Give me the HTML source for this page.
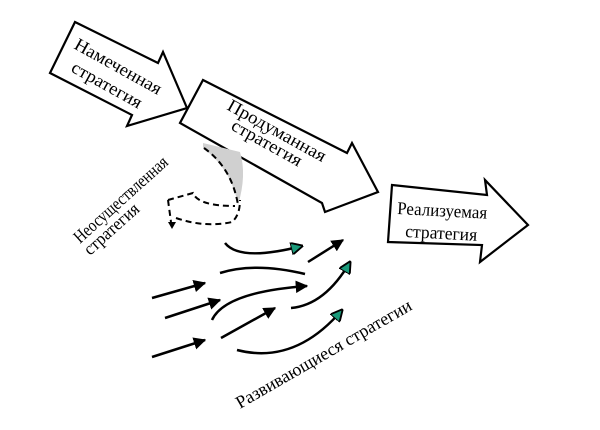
<!DOCTYPE html>
<html><head><meta charset="utf-8"><style>
body{margin:0;background:#fff}
</style></head><body>
<svg width="600" height="425" viewBox="0 0 600 425" xmlns="http://www.w3.org/2000/svg">
<defs>
<marker id="ah" viewBox="0 0 10 10" refX="9" refY="5" markerWidth="5" markerHeight="5" orient="auto"><path d="M0,0L10,5L0,10z" fill="#000"/></marker>
<marker id="gh" viewBox="0 0 10 10" refX="9" refY="5" markerWidth="5" markerHeight="5" orient="auto"><path d="M0,0L10,5L0,10z" fill="#1a9a7a" stroke="#000" stroke-width="1.5"/></marker>
</defs>
<g fill="#fff" stroke="#000" stroke-width="2.2" stroke-linejoin="miter">
<polygon points="75,22 158,63 163,52 187,108 127,126 132,115 50,73"/>
<polygon points="203,80 347,153 352,143 378,192 325,212 322,203 180,123"/>
<polygon points="392,185 487,195 485,180 528,225 480,262 482,245 388,242"/>
</g>
<path d="M203,143 L240,152 Q247,175 238,205 Q232,170 203,148 Z" fill="#d0d0d0"/>
<g fill="none" stroke="#000" stroke-width="2" stroke-dasharray="6,4">
<path d="M204,148 Q232,168 238,205"/>
<path d="M168,200 L193,193 Q198,206 235,206"/>
<path d="M168,200 L171,222"/>
<path d="M176,218 Q205,228 232,222 Q240,215 240,200"/>
</g>
<path d="M168,222 L176,222 L172,229 Z" fill="#000"/>
<g font-size="18" font-family="'Liberation Serif','Times New Roman',serif" lengthAdjust="spacingAndGlyphs">
<text transform="translate(73,48) rotate(29)" textLength="97" lengthAdjust="spacingAndGlyphs">Намеченная</text>
<text transform="translate(70,71) rotate(29)" textLength="78" lengthAdjust="spacingAndGlyphs">стратегия</text>
<text transform="translate(226,109) rotate(29)" textLength="110" lengthAdjust="spacingAndGlyphs">Продуманная</text>
<text transform="translate(230,129) rotate(29)" textLength="78" lengthAdjust="spacingAndGlyphs">стратегия</text>
<text transform="translate(397,214) rotate(3)" textLength="90" lengthAdjust="spacingAndGlyphs">Реализуемая</text>
<text transform="translate(405,237) rotate(3)" textLength="72" lengthAdjust="spacingAndGlyphs">стратегия</text>
<text transform="translate(80,244) rotate(-42)" textLength="120" lengthAdjust="spacingAndGlyphs">Неосуществленная</text>
<text transform="translate(90,256) rotate(-42)" textLength="68" lengthAdjust="spacingAndGlyphs">стратегия</text>
<text transform="translate(240,409) rotate(-30)" textLength="200" lengthAdjust="spacingAndGlyphs">Развивающиеся стратегии</text>
</g>
<g fill="none" stroke="#000" stroke-width="2.5">
<path d="M152,298 L205,283" marker-end="url(#ah)"/>
<path d="M165,318 L220,300" marker-end="url(#ah)"/>
<path d="M152,357 L205,340" marker-end="url(#ah)"/>
<path d="M221,338 L275,308" marker-end="url(#ah)"/>
<path d="M308,262 L343,240" marker-end="url(#ah)"/>
<path d="M225,243 Q240,262 302,246" marker-end="url(#gh)"/>
<path d="M220,273 Q255,262 305,274"/>
<path d="M212,320 Q225,292 307,286" marker-end="url(#ah)"/>
<path d="M291,308 Q325,305 350,262" marker-end="url(#gh)"/>
<path d="M237,350 Q295,365 342,310" marker-end="url(#gh)"/>
</g>
</svg>
</body></html>
